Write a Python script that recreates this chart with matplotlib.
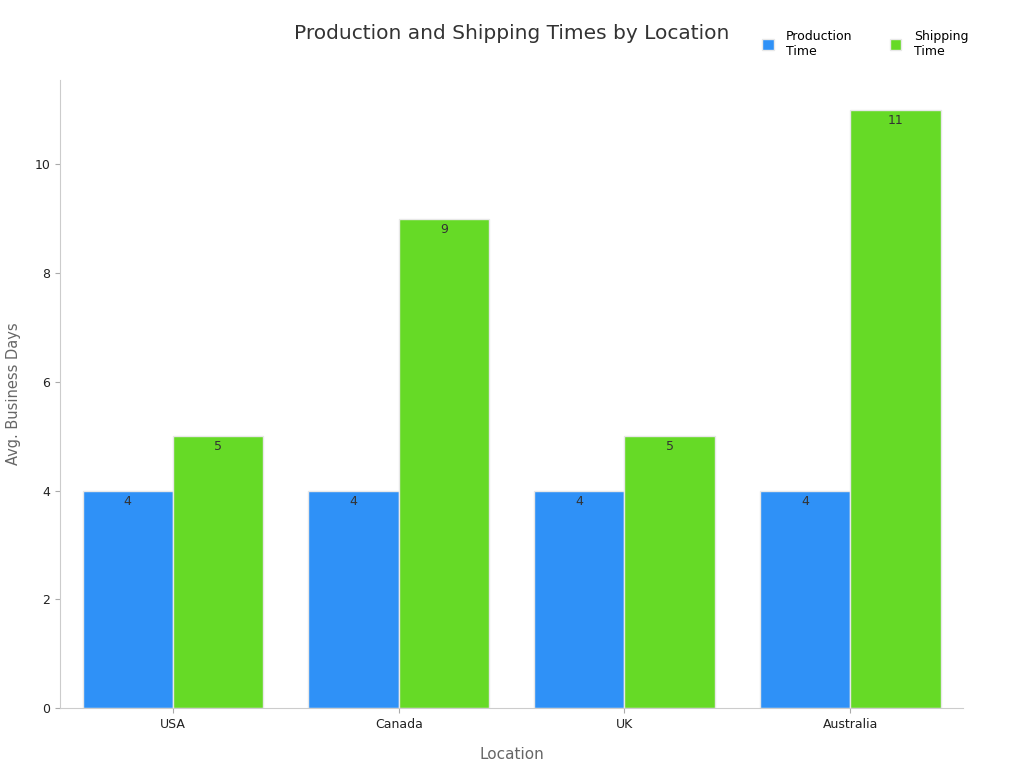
import matplotlib
matplotlib.use("Agg")
import matplotlib.pyplot as plt
import numpy as np

locations = ["USA", "Canada", "UK", "Australia"]
production = [4, 4, 4, 4]
shipping = [5, 9, 5, 11]
series_names = ["Production\nTime", "Shipping\nTime"]
colors = ["#2F91F7", "#66DA26"]

fig = plt.figure(figsize=(10.24, 7.68), dpi=100)
ax = fig.add_axes([0.0586, 0.078, 0.882, 0.818])
x = np.arange(len(locations))
w = 0.4
for i, (vals, name, c) in enumerate(zip([production, shipping], series_names, colors)):
    pos = x + (i - 0.5) * w
    bars = ax.bar(pos, vals, w, color=c, edgecolor="#e8e8e8", linewidth=1, label=name)
    for b, v in zip(bars, vals):
        ax.text(b.get_x() + b.get_width() / 2, v - 0.08, str(v), ha="center", va="top",
                fontsize=9, color="#333333")

ax.set_xlim(-0.5, 3.5)
ax.set_ylim(0, 11.55)
ax.set_xticks(x)
ax.set_xticklabels(locations, fontsize=9, color="#222222")
ax.set_yticks([0, 2, 4, 6, 8, 10])
ax.tick_params(axis="y", labelsize=9, colors="#222222")
ax.tick_params(axis="both", color="#aaaaaa")
for s in ["top", "right"]:
    ax.spines[s].set_visible(False)
for s in ["left", "bottom"]:
    ax.spines[s].set_color("#cccccc")
ax.set_xlabel("Location", fontsize=11, color="#666666", labelpad=12)
ax.set_ylabel("Avg. Business Days", fontsize=10.5, color="#666666", labelpad=10)
fig.text(0.5, 0.957, "Production and Shipping Times by Location", ha="center", va="center",
         fontsize=14.5, color="#333333")
fig.legend(loc="center", bbox_to_anchor=(0.845, 0.943), ncol=2, frameon=False, fontsize=9,
           handlelength=0.9, handleheight=0.9, handletextpad=1.0, columnspacing=3.0)
fig.savefig("out.png", dpi=100)
